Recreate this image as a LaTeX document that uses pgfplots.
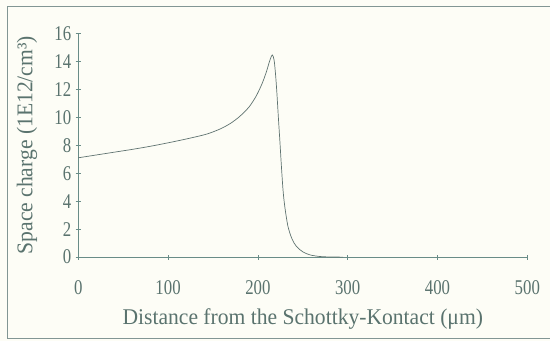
\documentclass[border=0pt]{standalone}
\usepackage{fontspec}
\setmainfont{Liberation Serif}
\newfontfamily\tickfont{Liberation Serif}[FakeStretch=0.8]
\newfontfamily\labfont{Liberation Serif}[FakeStretch=0.96]
\usepackage{pgfplots}
\pgfplotsset{compat=1.18}
\definecolor{axcol}{RGB}{105,140,135}
\definecolor{txtcol}{RGB}{90,115,110}
\definecolor{curvecol}{RGB}{95,115,112}
\definecolor{bgcol}{RGB}{253,253,246}
\definecolor{framecol}{RGB}{130,150,148}
\begin{document}
\begin{tikzpicture}
\fill[bgcol] (-78.3pt,-83.7pt) rectangle (471.7pt,257.3pt);
\begin{axis}[
  scale only axis,
  width=449.4pt, height=224pt,
  xmin=0, xmax=500, ymin=0, ymax=16,
  axis x line=bottom, axis y line=left,
  axis line style={-, draw=axcol, line width=0.6pt},
  xtick={0,100,...,500}, ytick={0,2,...,16},
  tick align=center, major tick length=5pt,
  tick style={draw=axcol, line width=0.6pt},
  /pgf/number format/assume math mode=true,
  ticklabel style={font=\tickfont\fontsize{21}{24}\selectfont, text=txtcol},
  xticklabel style={anchor=base, yshift=-34.5pt},
  yticklabel style={xshift=-1pt},
  label style={font=\labfont\fontsize{22.5}{26}\selectfont, text=txtcol},
  xlabel={Distance from the Schottky-Kontact (μm)},
  ylabel={Space charge (1E12/cm³)},
  xlabel style={at={(axis description cs:0.5,-0.278)}, anchor=center},
  ylabel style={at={(axis description cs:-0.114,0.5)}, anchor=center, rotate=0},
  clip=false,
]
\addplot[curvecol, line width=0.7pt, smooth] coordinates {
(0,7.1) (20,7.3) (40,7.5) (60,7.7) (80,7.92) (100,8.17) (120,8.44) (140,8.74)
(150,8.95) (160,9.22) (170,9.58) (180,10.07) (190,10.72) (198,11.5) (205,12.45)
(210,13.35) (213,14.0) (216,14.45) (218,14.1) (219.5,13.2) (221,11.9) (223,9.8)
(224.5,8.3) (226,6.7) (228,4.8) (230,3.6) (233.5,2.2) (238,1.3) (243,0.76)
(250,0.38) (258,0.16) (268,0.05) (280,0.01) (295,0)
};
\end{axis}
\draw[framecol, line width=0.8pt] (471.7pt,251.3pt) -- (-71.3pt,251.3pt) -- (-71.3pt,-81.7pt) -- (471.7pt,-81.7pt);
\useasboundingbox (-78.3pt,-83.7pt) rectangle (471.7pt,257.3pt);
\end{tikzpicture}
\end{document}
